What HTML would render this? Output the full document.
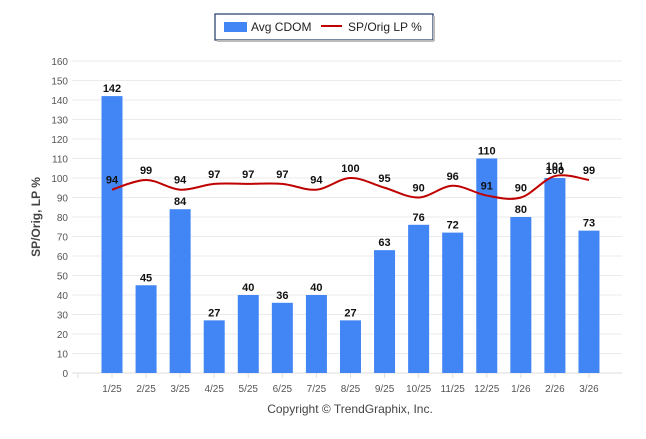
<!DOCTYPE html>
<html><head><meta charset="utf-8"><style>
body{margin:0;background:#fff;width:646px;height:434px;overflow:hidden;font-family:"Liberation Sans",Arial,sans-serif}
</style></head><body>
<svg id="c" width="646" height="434" xmlns="http://www.w3.org/2000/svg">
<g>
<rect x="215" y="14" width="218" height="26" fill="#fff" stroke="#1f3864" stroke-width="1.2"/>
<line x1="217" y1="41" x2="434" y2="41" stroke="#bbb" stroke-width="2"/>
<line x1="434" y1="16" x2="434" y2="41" stroke="#bbb" stroke-width="2"/>
<rect x="224" y="22" width="23" height="10" fill="#4285f4"/>
<text x="251" y="31" font-size="12" fill="#222">Avg CDOM</text>
<line x1="321" y1="26" x2="342" y2="26" stroke="#c00000" stroke-width="2"/>
<text x="348" y="31" font-size="12" fill="#222">SP/Orig LP %</text>
</g>
<text x="40" y="217" font-size="12" font-weight="bold" fill="#444" text-anchor="middle" transform="rotate(-90 40 217)">SP/Orig, LP %</text>
<text x="350" y="413" font-size="12" fill="#444" text-anchor="middle">Copyright © TrendGraphix, Inc.</text>
<g id="grid"></g><g id="bars"></g><g id="line"></g><g id="labels"></g>
</svg>
<script>
const categories=["1/25","2/25","3/25","4/25","5/25","6/25","7/25","8/25","9/25","10/25","11/25","12/25","1/26","2/26","3/26"];
const cdom=[142,45,84,27,40,36,40,27,63,76,72,110,80,100,73];
const sp=[94,99,94,97,97,97,94,100,95,90,96,91,90,101,99];
const yTicks=[0,10,20,30,40,50,60,70,80,90,100,110,120,130,140,150,160];
const NS="http://www.w3.org/2000/svg";
const y=v=>373-v*(312/160);
const x=i=>112+i*34.07;
function mk(t,a,p){const e=document.createElementNS(NS,t);for(const k in a)e.setAttribute(k,a[k]);p.appendChild(e);return e;}
const G=document.getElementById('grid'),B=document.getElementById('bars'),L=document.getElementById('line'),T=document.getElementById('labels');
yTicks.forEach(v=>{
 const l=mk('line',{x1:72,x2:622,y1:y(v),y2:y(v),stroke:v===0?'#ddd':'#ebebeb','stroke-width':1},G);
 
 
 const t=mk('text',{x:68,y:y(v)+4,'font-size':10,fill:'#555','text-anchor':'end'},G);t.textContent=v;
 
 
});
[-1].concat(categories.map((c,i)=>i)).forEach(i=>{mk('line',{x1:x(i),x2:x(i),y1:373,y2:378,stroke:'#ddd'},G);});
categories.forEach((c,i)=>{
 const r=mk('rect',{x:x(i)-10.5,y:y(cdom[i]),width:21,height:373-y(cdom[i]),fill:'#4285f4'},B);
 
 
 const t=mk('text',{x:x(i),y:y(cdom[i])-4,'font-size':11,'font-weight':'bold',fill:'#111','text-anchor':'middle'},T);t.textContent=cdom[i];
 
 
 const s=mk('text',{x:x(i),y:y(sp[i])-6,'font-size':11,'font-weight':'bold',fill:'#111','text-anchor':'middle'},T);s.textContent=sp[i];
 
 
 const xl=mk('text',{x:x(i),y:392,'font-size':10,fill:'#555','text-anchor':'middle'},G);xl.textContent=c;
 
 
});
let d='';const pts=sp.map((v,i)=>[x(i),y(v)]);
pts.forEach((p,i)=>{if(i===0){d+='M'+p[0]+','+p[1];return;}
 const p0=pts[i-1],pm=pts[i-2]||p0,pn=pts[i+1]||p;
 const c1=[p0[0]+(p[0]-pm[0])/6,p0[1]+(p[1]-pm[1])/6],c2=[p[0]-(pn[0]-p0[0])/6,p[1]-(pn[1]-p0[1])/6];
 d+=` C${c1[0]},${c1[1]} ${c2[0]},${c2[1]} ${p[0]},${p[1]}`;});
const pl=mk('path',{d:d,fill:'none',stroke:'#c00000','stroke-width':2},L);


</script>
</body></html>
